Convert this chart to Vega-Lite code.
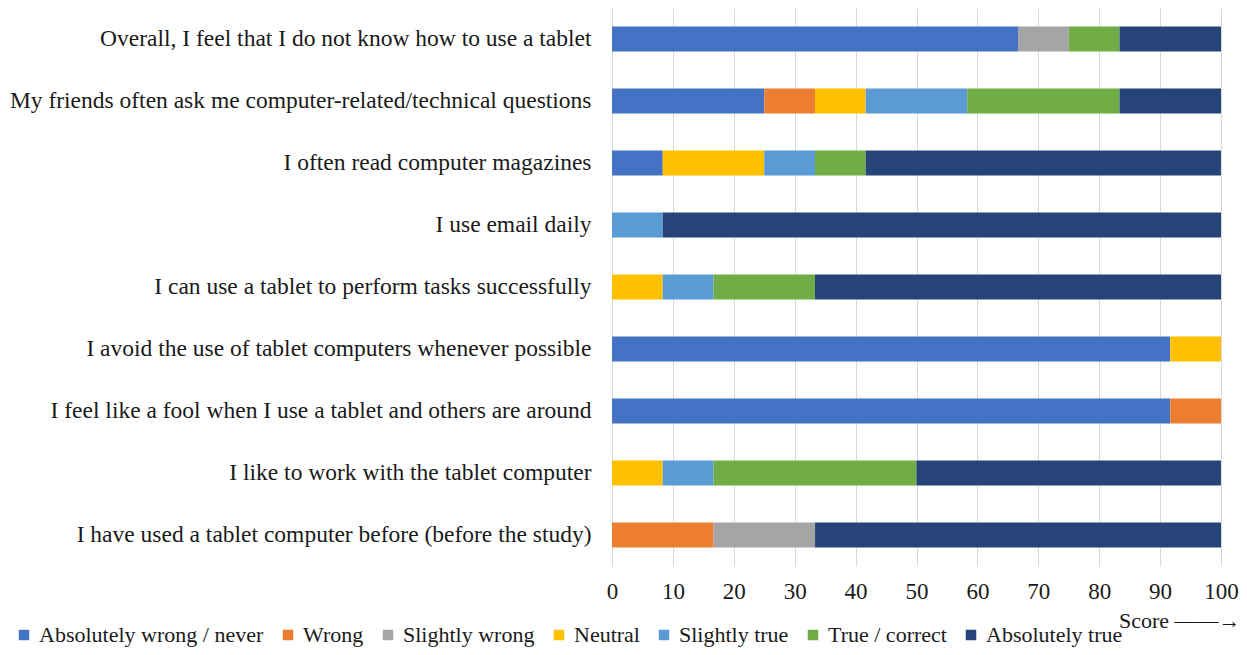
{
  "$schema": "https://vega.github.io/schema/vega-lite/v6.json",
  "autosize": "none",
  "width": 609,
  "height": 558,
  "padding": {"left": 612, "top": 8, "right": 26, "bottom": 89},
  "background": "white",
  "config": {
    "view": {"stroke": null},
    "font": "Liberation Serif"
  },
  "data": {
    "values": [
      {"q": "Overall, I feel that I do not know how to use a tablet", "c": "Absolutely wrong / never", "k": 1, "v": 66.67},
      {"q": "Overall, I feel that I do not know how to use a tablet", "c": "Slightly wrong", "k": 3, "v": 8.33},
      {"q": "Overall, I feel that I do not know how to use a tablet", "c": "True / correct", "k": 6, "v": 8.33},
      {"q": "Overall, I feel that I do not know how to use a tablet", "c": "Absolutely true", "k": 7, "v": 16.67},
      {"q": "My friends often ask me computer-related/technical questions", "c": "Absolutely wrong / never", "k": 1, "v": 25},
      {"q": "My friends often ask me computer-related/technical questions", "c": "Wrong", "k": 2, "v": 8.33},
      {"q": "My friends often ask me computer-related/technical questions", "c": "Neutral", "k": 4, "v": 8.33},
      {"q": "My friends often ask me computer-related/technical questions", "c": "Slightly true", "k": 5, "v": 16.67},
      {"q": "My friends often ask me computer-related/technical questions", "c": "True / correct", "k": 6, "v": 25},
      {"q": "My friends often ask me computer-related/technical questions", "c": "Absolutely true", "k": 7, "v": 16.67},
      {"q": "I often read computer magazines", "c": "Absolutely wrong / never", "k": 1, "v": 8.33},
      {"q": "I often read computer magazines", "c": "Neutral", "k": 4, "v": 16.67},
      {"q": "I often read computer magazines", "c": "Slightly true", "k": 5, "v": 8.33},
      {"q": "I often read computer magazines", "c": "True / correct", "k": 6, "v": 8.33},
      {"q": "I often read computer magazines", "c": "Absolutely true", "k": 7, "v": 58.33},
      {"q": "I use email daily", "c": "Slightly true", "k": 5, "v": 8.33},
      {"q": "I use email daily", "c": "Absolutely true", "k": 7, "v": 91.67},
      {"q": "I can use a tablet to perform tasks successfully", "c": "Neutral", "k": 4, "v": 8.33},
      {"q": "I can use a tablet to perform tasks successfully", "c": "Slightly true", "k": 5, "v": 8.33},
      {"q": "I can use a tablet to perform tasks successfully", "c": "True / correct", "k": 6, "v": 16.67},
      {"q": "I can use a tablet to perform tasks successfully", "c": "Absolutely true", "k": 7, "v": 66.67},
      {"q": "I avoid the use of tablet computers whenever possible", "c": "Absolutely wrong / never", "k": 1, "v": 91.67},
      {"q": "I avoid the use of tablet computers whenever possible", "c": "Neutral", "k": 4, "v": 8.33},
      {"q": "I feel like a fool when I use a tablet and others are around", "c": "Absolutely wrong / never", "k": 1, "v": 91.67},
      {"q": "I feel like a fool when I use a tablet and others are around", "c": "Wrong", "k": 2, "v": 8.33},
      {"q": "I like to work with the tablet computer", "c": "Neutral", "k": 4, "v": 8.33},
      {"q": "I like to work with the tablet computer", "c": "Slightly true", "k": 5, "v": 8.33},
      {"q": "I like to work with the tablet computer", "c": "True / correct", "k": 6, "v": 33.33},
      {"q": "I like to work with the tablet computer", "c": "Absolutely true", "k": 7, "v": 50},
      {"q": "I have used a tablet computer before (before the study)", "c": "Wrong", "k": 2, "v": 16.67},
      {"q": "I have used a tablet computer before (before the study)", "c": "Slightly wrong", "k": 3, "v": 16.67},
      {"q": "I have used a tablet computer before (before the study)", "c": "Absolutely true", "k": 7, "v": 66.66}
    ]
  },
  "mark": {"type": "bar"},
  "encoding": {
    "y": {
      "field": "q",
      "type": "nominal",
      "sort": null,
      "scale": {"paddingInner": 0.6, "paddingOuter": 0.3},
      "axis": {
        "title": null,
        "domain": false,
        "ticks": false,
        "labelFont": "Liberation Serif",
        "labelFontSize": 23.5,
        "labelColor": "#1a1a1a",
        "labelPadding": 21,
        "labelLimit": 700
      }
    },
    "x": {
      "field": "v",
      "type": "quantitative",
      "stack": "zero",
      "scale": {"domain": [0, 100], "nice": false},
      "axis": {
        "values": [0, 10, 20, 30, 40, 50, 60, 70, 80, 90, 100],
        "domain": false,
        "ticks": false,
        "grid": true,
        "gridColor": "#d9d9d9",
        "gridWidth": 1,
        "labelFont": "Liberation Serif",
        "labelFontSize": 23,
        "labelColor": "#1a1a1a",
        "labelPadding": 14,
        "labelFlush": false,
        "title": "Score ——→",
        "titleFont": "Liberation Serif",
        "titleFontSize": 22,
        "titleFontWeight": "normal",
        "titleColor": "#1a1a1a",
        "titleAnchor": null,
        "titleAlign": "right",
        "titleBaseline": "middle",
        "titleX": 628,
        "titleY": 54
      }
    },
    "color": {
      "field": "c",
      "type": "nominal",
      "scale": {
        "domain": ["Absolutely wrong / never", "Wrong", "Slightly wrong", "Neutral", "Slightly true", "True / correct", "Absolutely true"],
        "range": ["#4472C4", "#ED7D31", "#A5A5A5", "#FFC000", "#5B9BD5", "#70AD47", "#264478"]
      },
      "legend": {
        "title": null,
        "orient": "none",
        "direction": "horizontal",
        "legendX": -599,
        "legendY": 616,
        "symbolType": "square",
        "symbolSize": 110,
        "symbolStrokeWidth": 0,
        "labelFont": "Liberation Serif",
        "labelFontSize": 22,
        "labelColor": "#1a1a1a",
        "labelOffset": 4,
        "columnPadding": 13,
        "labelLimit": 400
      }
    },
    "order": {"field": "k", "type": "quantitative"}
  }
}
